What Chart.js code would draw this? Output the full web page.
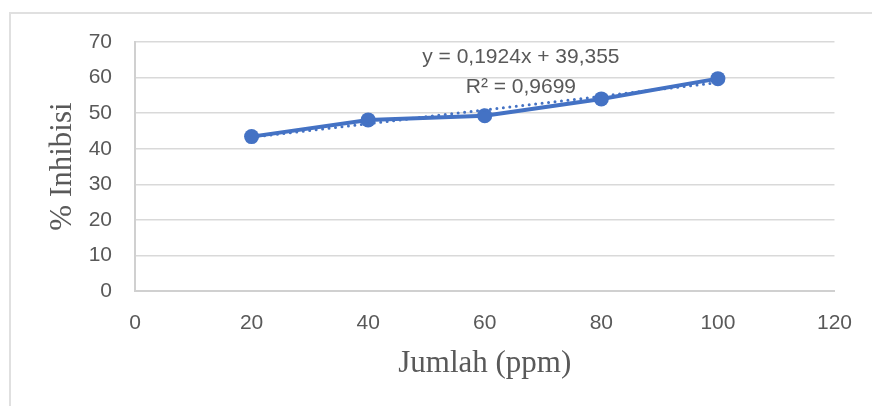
<!DOCTYPE html>
<html>
<head>
<meta charset="utf-8">
<script src="https://cdn.jsdelivr.net/npm/chart.js@4"></script>
<style>
  body { margin: 0; background: #fff; }
  #wrap { position: relative; width: 872px; height: 406px; overflow: hidden; background: #fff; }
  #frame { position: absolute; left: 9px; top: 12px; width: 900px; height: 500px; border: 2px solid #e0e0e0; box-sizing: border-box; }
  canvas { position: absolute; left: 0; top: 0; }
</style>
</head>
<body>
<div id="wrap">
  <div id="frame"></div>
  <canvas id="chart" width="872" height="406"></canvas>
</div>
<script>
// concentration (ppm) vs inhibition (%)
const jumlah = [20, 40, 60, 80, 100];
const inhibisi = [43.4, 48.1, 49.3, 54.0, 59.7];

// linear trendline, as printed on the chart
const slope = 0.1924;
const intercept = 39.355;
const trendLabel = "y = 0,1924x + 39,355";
const r2Label = "R² = 0,9699";

const xTicks = [0, 20, 40, 60, 80, 100, 120];
const yTicks = [0, 10, 20, 30, 40, 50, 60, 70];

const blue = "#4472C4";
const grey = "#595959";

const points = jumlah.map((x, i) => ({ x: x, y: inhibisi[i] }));
const xFirst = jumlah[0];
const xLast = jumlah[jumlah.length - 1];
const trend = [
  { x: xFirst, y: slope * xFirst + intercept },
  { x: xLast, y: slope * xLast + intercept },
];

// equation + R² text above the line
const trendText = {
  id: "trendText",
  afterDatasetsDraw(chart) {
    const { ctx, scales } = chart;
    ctx.save();
    ctx.fillStyle = grey;
    ctx.font = "21px 'Liberation Sans', Arial, sans-serif";
    ctx.textAlign = "center";
    ctx.textBaseline = "alphabetic";
    const cx = scales.x.getPixelForValue(66.2);
    ctx.fillText(trendLabel, cx, scales.y.getPixelForValue(64.2));
    ctx.fillText(r2Label, cx, scales.y.getPixelForValue(55.6));
    ctx.restore();
  },
};

new Chart(document.getElementById("chart"), {
  type: "scatter",
  data: {
    datasets: [
      {
        label: "trend",
        data: trend,
        showLine: true,
        borderColor: blue,
        borderWidth: 3,
        borderDash: [0, 6.5],
        borderCapStyle: "round",
        pointRadius: 0,
        order: 0,
      },
      {
        label: "% Inhibisi",
        data: points,
        showLine: true,
        tension: 0,
        borderColor: blue,
        borderWidth: 4,
        backgroundColor: blue,
        pointRadius: 7.5,
        pointBorderWidth: 0,
        pointBackgroundColor: blue,
        order: 1,
      },
    ],
  },
  options: {
    responsive: false,
    animation: false,
    layout: { padding: { top: 42, right: 36, left: 0, bottom: 0 } },
    plugins: {
      legend: { display: false },
      tooltip: { enabled: false },
    },
    scales: {
      x: {
        type: "linear",
        min: 0,
        max: 120,
        afterBuildTicks: (s) => { s.ticks = xTicks.map((v) => ({ value: v })); },
        afterFit: (s) => { s.height = 115; },
        grid: { display: false, drawTicks: false },
        border: { display: true, color: "#d0d0d0", width: 2 },
        ticks: {
          color: grey,
          padding: 20,
          maxRotation: 0,
          font: { family: "'Liberation Sans', Arial, sans-serif", size: 21 },
        },
        title: {
          display: true,
          text: "Jumlah (ppm)",
          color: grey,
          padding: { top: 0, bottom: 24 },
          font: { family: "'Liberation Serif', 'Times New Roman', serif", size: 31, lineHeight: 1.2 },
        },
      },
      y: {
        min: 0,
        max: 70,
        afterBuildTicks: (s) => { s.ticks = yTicks.map((v) => ({ value: v })); },
        afterFit: (s) => { s.width = 135; },
        grid: { color: "#d9d9d9", lineWidth: 1.5, drawTicks: false },
        border: { display: true, color: "#d0d0d0", width: 2 },
        ticks: {
          color: grey,
          padding: 23,
          font: { family: "'Liberation Sans', Arial, sans-serif", size: 21 },
        },
        title: {
          display: true,
          text: "% Inhibisi",
          color: grey,
          padding: { top: 44, bottom: 0 },
          font: { family: "'Liberation Serif', 'Times New Roman', serif", size: 31, lineHeight: 1.2 },
        },
      },
    },
  },
  plugins: [trendText],
});
</script>
</body>
</html>
